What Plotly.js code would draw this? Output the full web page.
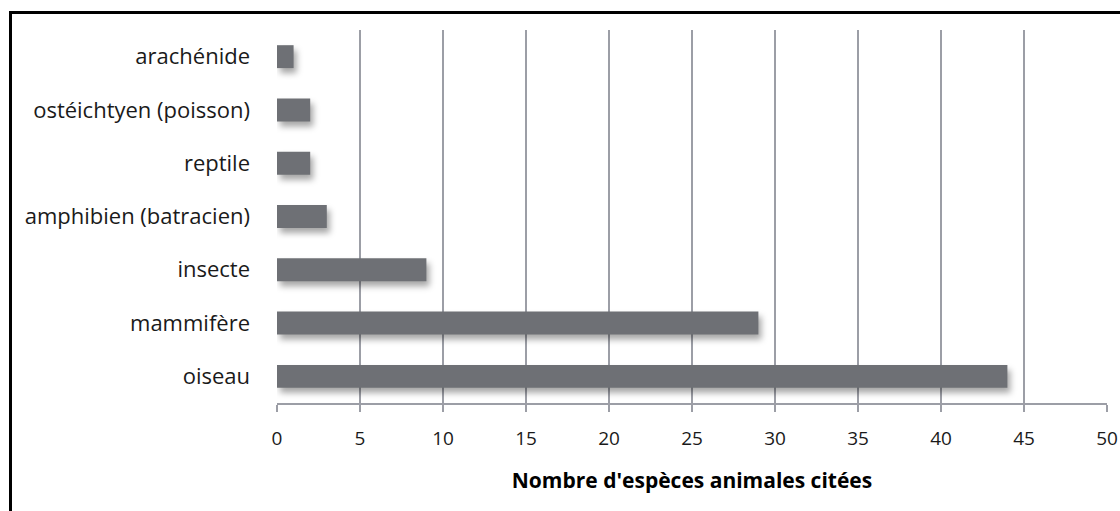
<!DOCTYPE html>
<html>
<head>
<meta charset="utf-8">
<script src="https://cdn.plot.ly/plotly-3.0.1.min.js"></script>
<style>
  html, body { margin: 0; padding: 0; background: #ffffff; }
  #wrap { position: relative; width: 1120px; height: 511px; overflow: hidden; }
  #chart { position: absolute; left: 0; top: 0; width: 1120px; height: 511px; }
  #frame { position: absolute; left: 9px; top: 11px; width: 2000px; height: 2000px;
           border-left: 3px solid #000; border-top: 3px solid #000; pointer-events: none; }
  #chart .trace.bars path { filter: drop-shadow(3px 5px 3px rgba(0,0,0,0.35)); }
</style>
</head>
<body>
<div id="wrap">
  <div id="chart"></div>
  <div id="frame"></div>
</div>
<script>
const categories = ["oiseau", "mammifère", "insecte", "amphibien (batracien)", "reptile", "ostéichtyen (poisson)", "arachénide"];
const counts = [44, 29, 9, 3, 2, 2, 1];
const xTickValues = [0, 5, 10, 15, 20, 25, 30, 35, 40, 45, 50];
const xTitle = "Nombre d'espèces animales citées";

const fontFamily = "'Open Sans', 'DejaVu Sans', sans-serif";
const gridColor = "#9c9ea6";

const trace = {
  type: "bar",
  orientation: "h",
  y: categories,
  x: counts,
  marker: { color: "#6e7075", line: { width: 0 } },
  hoverinfo: "x+y"
};

const layout = {
  width: 1120,
  height: 511,
  margin: { l: 277, r: 13, t: 30, b: 108, pad: 0 },
  paper_bgcolor: "#ffffff",
  plot_bgcolor: "#ffffff",
  bargap: 0.57,
  showlegend: false,
  font: { family: fontFamily, size: 22, color: "#1a1a1a" },
  xaxis: {
    range: [0, 50],
    tickvals: xTickValues,
    ticktext: xTickValues.map(String),
    showgrid: true,
    gridcolor: gridColor,
    gridwidth: 2,
    zeroline: false,
    showline: true,
    linecolor: gridColor,
    linewidth: 2,
    ticks: "outside",
    ticklen: 7,
    tickwidth: 2,
    tickcolor: gridColor,
    ticklabelstandoff: 10,
    tickfont: { family: fontFamily, size: 19, color: "#1a1a1a" },
    title: { text: xTitle, font: { family: fontFamily, size: 21, color: "#000", weight: "bold" }, standoff: 24 },
    fixedrange: true
  },
  yaxis: {
    type: "category",
    categoryorder: "array",
    categoryarray: categories,
    range: [-0.5, 6.5],
    showgrid: false,
    zeroline: false,
    showline: false,
    ticks: "",
    ticklabelstandoff: 26,
    tickfont: { family: fontFamily, size: 22, color: "#1a1a1a" },
    fixedrange: true
  }
};

Plotly.newPlot("chart", [trace], layout, { displayModeBar: false, staticPlot: true });
</script>
</body>
</html>
